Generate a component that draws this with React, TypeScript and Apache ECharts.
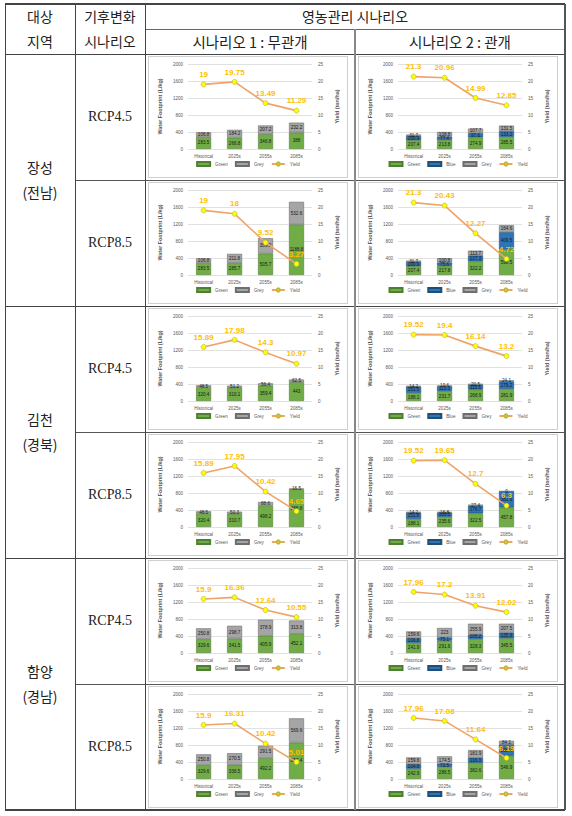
import React, { useEffect, useRef } from "react";
import * as echarts from "echarts";

// ---------- data ----------
const periods = ["Historical", "2025s", "2055s", "2085s"];
const regions = ["장성", "김천", "함양"];
const provinces = ["(전남)", "(경북)", "(경남)"];
const rcps = ["RCP4.5", "RCP8.5"];
const headerTop = "영농관리 시나리오";
const scenarioNames = ["시나리오 1 : 무관개", "시나리오 2 : 관개"];

// 장성
const jangseong45DryGreen = [283.5, 266.8, 346.8, 388];
const jangseong45DryGrey = [106.8, 184.2, 207.2, 232.2];
const jangseong45DryYield = [19, 19.75, 13.49, 11.29];
const jangseong45IrrGreen = [207.4, 213.8, 274.9, 285.5];
const jangseong45IrrBlue = [100.9, 77.4, 97.6, 133.2];
const jangseong45IrrGrey = [31.7, 108.8, 107.7, 131.5];
const jangseong45IrrYield = [21.3, 20.96, 14.99, 12.85];
const jangseong85DryGreen = [283.5, 285.7, 505.7, 1188.8];
const jangseong85DryGrey = [106.8, 211.8, 359.2, 532.6];
const jangseong85DryYield = [19, 18, 9.52, 3.27];
const jangseong85IrrGreen = [207.4, 217.8, 322.2, 598.5];
const jangseong85IrrBlue = [100.9, 75.6, 137.3, 409.5];
const jangseong85IrrGrey = [31.7, 100.8, 113.7, 164.6];
const jangseong85IrrYield = [21.3, 20.43, 12.27, 4.72];

// 김천
const gimcheon45DryGreen = [320.4, 310.1, 359.4, 443];
const gimcheon45DryGrey = [48.5, 51.2, 56.4, 62.5];
const gimcheon45DryYield = [15.89, 17.98, 14.3, 10.97];
const gimcheon45IrrGreen = [188.1, 231.7, 268.9, 281.9];
const gimcheon45IrrBlue = [151.5, 113.3, 115.6, 179.2];
const gimcheon45IrrGrey = [14.2, 19.6, 20.5, 24.1];
const gimcheon45IrrYield = [19.52, 19.4, 16.14, 13.2];
const gimcheon85DryGreen = [320.4, 310.7, 498.2, 888.8];
const gimcheon85DryGrey = [48.5, 50.3, 88.6, 16.5];
const gimcheon85DryYield = [15.89, 17.95, 10.42, 4.65];
const gimcheon85IrrGreen = [188.1, 235.6, 322.5, 457.8];
const gimcheon85IrrBlue = [151.8, 103.5, 176.7, 381.6];
const gimcheon85IrrGrey = [14.2, 16.8, 27.4, 0];
const gimcheon85IrrYield = [19.52, 19.65, 12.7, 6.3];

// 함양
const hamyang45DryGreen = [329.6, 341.5, 405.9, 452.1];
const hamyang45DryGrey = [250.8, 298.7, 378.9, 313.8];
const hamyang45DryYield = [15.9, 16.36, 12.64, 10.55];
const hamyang45IrrGreen = [241.9, 291.6, 328.3, 345.5];
const hamyang45IrrBlue = [106.8, 75.1, 105.2, 135.9];
const hamyang45IrrGrey = [159.6, 223, 255.9, 207.5];
const hamyang45IrrYield = [17.96, 17.2, 13.91, 12.02];
const hamyang85DryGreen = [329.6, 336.5, 492.2, 857.4];
const hamyang85DryGrey = [250.8, 270.5, 291.5, 569.6];
const hamyang85DryYield = [15.9, 16.31, 10.42, 5.01];
const hamyang85IrrGreen = [242.9, 286.5, 382.6, 546.9];
const hamyang85IrrBlue = [104.8, 72.5, 116.3, 268.4];
const hamyang85IrrGrey = [159.6, 174.5, 181.9, 84.1];
const hamyang85IrrYield = [17.96, 17.08, 11.64, 6.19];

type Cell = { green: number[]; blue?: number[]; grey: number[]; yld: number[] };

const rowsData: Cell[][] = [
  [
    { green: jangseong45DryGreen, grey: jangseong45DryGrey, yld: jangseong45DryYield },
    { green: jangseong45IrrGreen, blue: jangseong45IrrBlue, grey: jangseong45IrrGrey, yld: jangseong45IrrYield },
  ],
  [
    { green: jangseong85DryGreen, grey: jangseong85DryGrey, yld: jangseong85DryYield },
    { green: jangseong85IrrGreen, blue: jangseong85IrrBlue, grey: jangseong85IrrGrey, yld: jangseong85IrrYield },
  ],
  [
    { green: gimcheon45DryGreen, grey: gimcheon45DryGrey, yld: gimcheon45DryYield },
    { green: gimcheon45IrrGreen, blue: gimcheon45IrrBlue, grey: gimcheon45IrrGrey, yld: gimcheon45IrrYield },
  ],
  [
    { green: gimcheon85DryGreen, grey: gimcheon85DryGrey, yld: gimcheon85DryYield },
    { green: gimcheon85IrrGreen, blue: gimcheon85IrrBlue, grey: gimcheon85IrrGrey, yld: gimcheon85IrrYield },
  ],
  [
    { green: hamyang45DryGreen, grey: hamyang45DryGrey, yld: hamyang45DryYield },
    { green: hamyang45IrrGreen, blue: hamyang45IrrBlue, grey: hamyang45IrrGrey, yld: hamyang45IrrYield },
  ],
  [
    { green: hamyang85DryGreen, grey: hamyang85DryGrey, yld: hamyang85DryYield },
    { green: hamyang85IrrGreen, blue: hamyang85IrrBlue, grey: hamyang85IrrGrey, yld: hamyang85IrrYield },
  ],
];

// ---------- layout ----------
const FONT = "'Liberation Sans', Arial, sans-serif";
const KFONT = "'Noto Sans CJK KR', sans-serif";
const colX = [5, 75, 145, 355, 565];
const rowY = [54, 180, 306, 432, 558, 684, 810];
const boxW = 200;
const boxH = 122;
const boxLeft = [148, 358];

function MiniChart({ cell, left, top }: { cell: Cell; left: number; top: number }) {
  const ref = useRef<HTMLDivElement>(null);
  useEffect(() => {
    if (!ref.current) return;
    const chart = echarts.init(ref.current, undefined, { renderer: "svg" });
    const small = { fontSize: 4.6, color: "#595959", fontFamily: FONT };
    const barLabel = { show: true, position: "inside", fontSize: 4.6, color: "#1a1a1a", fontFamily: FONT };
    const series: any[] = [
      {
        type: "bar",
        name: "Green",
        stack: "wf",
        barWidth: 15,
        data: cell.green,
        itemStyle: { color: "#70AD47", borderColor: "#4F7F30", borderWidth: 0.6 },
        label: barLabel,
      },
    ];
    if (cell.blue) {
      series.push({
        type: "bar",
        name: "Blue",
        stack: "wf",
        barWidth: 15,
        data: cell.blue,
        itemStyle: { color: "#2E75B6", borderColor: "#1F4E79", borderWidth: 0.6 },
        label: barLabel,
      });
    }
    series.push({
      type: "bar",
      name: "Grey",
      stack: "wf",
      barWidth: 15,
      data: cell.grey,
      itemStyle: { color: "#A5A5A5", borderColor: "#6E6E6E", borderWidth: 0.6 },
      label: barLabel,
    });
    series.push({
      type: "line",
      name: "Yield",
      yAxisIndex: 1,
      data: cell.yld,
      symbol: "circle",
      symbolSize: 5,
      z: 10,
      lineStyle: { color: "#F0A367", width: 1.6 },
      itemStyle: { color: "#FFFF00", borderColor: "#BFB83A", borderWidth: 0.7 },
      label: {
        show: true,
        position: "top",
        distance: 3,
        fontSize: 8,
        fontWeight: "bold",
        color: "#FFC000",
        fontFamily: FONT,
      },
    });
    const legendData: any[] = [{ name: "Green", icon: "rect" }];
    if (cell.blue) legendData.push({ name: "Blue", icon: "rect" });
    legendData.push({ name: "Grey", icon: "rect" });
    legendData.push({ name: "Yield" });

    chart.setOption({
      animation: false,
      textStyle: { fontFamily: FONT },
      grid: { left: 34, right: 29, top: 7, bottom: 28 },
      legend: {
        data: legendData,
        bottom: 5,
        itemWidth: 13,
        itemHeight: 4,
        itemGap: 7,
        textStyle: small,
      },
      xAxis: {
        type: "category",
        data: periods,
        axisLine: { show: false },
        axisTick: { show: false },
        axisLabel: { ...small, margin: 5 },
      },
      yAxis: [
        {
          type: "value",
          min: 0,
          max: 2000,
          interval: 400,
          name: "Water Footprint (L/kg)",
          nameLocation: "middle",
          nameGap: 20,
          nameTextStyle: { fontSize: 5.4, fontWeight: "bold", color: "#595959", fontFamily: FONT },
          axisLabel: { ...small, margin: 5, formatter: (v: number) => String(v) },
          axisLine: { show: false },
          axisTick: { show: false },
          splitLine: { lineStyle: { color: "#D9D9D9", width: 0.8 } },
        },
        {
          type: "value",
          min: 0,
          max: 25,
          interval: 5,
          position: "right",
          name: "Yield (ton/ha)",
          nameLocation: "middle",
          nameGap: 18,
          nameTextStyle: { fontSize: 5.4, fontWeight: "bold", color: "#595959", fontFamily: FONT },
          axisLabel: { ...small, margin: 6, formatter: (v: number) => String(v) },
          axisLine: { show: false },
          axisTick: { show: false },
          splitLine: { show: false },
        },
      ],
      series,
    });
    return () => chart.dispose();
  }, [cell]);
  return (
    <div
      style={{
        position: "absolute",
        left,
        top,
        width: boxW,
        height: boxH,
        border: "1px solid #CFCFCF",
        boxSizing: "border-box",
        background: "#fff",
      }}
    >
      <div ref={ref} style={{ width: boxW - 2, height: boxH - 2 }} />
    </div>
  );
}

function HLine({ x1, x2, y, w = 1, c = "#555" }: { x1: number; x2: number; y: number; w?: number; c?: string }) {
  return <div style={{ position: "absolute", left: x1, top: y - w / 2, width: x2 - x1, height: w, background: c }} />;
}
function VLine({ y1, y2, x, w = 1, c = "#555" }: { y1: number; y2: number; x: number; w?: number; c?: string }) {
  return <div style={{ position: "absolute", left: x - w / 2, top: y1, width: w, height: y2 - y1, background: c }} />;
}
function Txt({ x, y, text, size = 14, font = KFONT }: { x: number; y: number; text: string; size?: number; font?: string }) {
  return (
    <div
      style={{
        position: "absolute",
        left: x - 100,
        top: y - size * 0.7,
        width: 200,
        textAlign: "center",
        fontSize: size,
        lineHeight: `${size * 1.4}px`,
        fontFamily: font,
        color: "#222",
        whiteSpace: "nowrap",
      }}
    >
      {text}
    </div>
  );
}

export default function App() {
  const top = 4;
  const bottom = rowY[6];
  return (
    <div style={{ position: "absolute", left: 0, top: 0, width: 572, height: 816, background: "#fff", overflow: "hidden" }}>
      {/* header texts */}
      <Txt x={40} y={17} text="대상" />
      <Txt x={40} y={42} text="지역" />
      <Txt x={110} y={17} text="기후변화" />
      <Txt x={110} y={42} text="시나리오" />
      <Txt x={(colX[2] + colX[4]) / 2} y={17} text={headerTop} />
      <Txt x={(colX[2] + colX[3]) / 2} y={42} text={scenarioNames[0]} size={14.5} />
      <Txt x={(colX[3] + colX[4]) / 2} y={42} text={scenarioNames[1]} size={14.5} />

      {/* region labels */}
      {regions.map((r, i) => {
        const cy = (rowY[i * 2] + rowY[i * 2 + 2]) / 2;
        return (
          <React.Fragment key={r}>
            <Txt x={40} y={cy - 12} text={r} />
            <Txt x={40} y={cy + 13} text={provinces[i]} />
          </React.Fragment>
        );
      })}
      {/* RCP labels */}
      {rowsData.map((_, i) => (
        <Txt
          key={"rcp" + i}
          x={110}
          y={(rowY[i] + rowY[i + 1]) / 2}
          text={rcps[i % 2]}
          size={14}
          font="'Liberation Serif', 'Times New Roman', serif"
        />
      ))}

      {/* charts */}
      {rowsData.map((row, i) =>
        row.map((cell, j) => (
          <MiniChart key={`c${i}-${j}`} cell={cell} left={boxLeft[j]} top={rowY[i] + 2} />
        ))
      )}

      {/* table lines */}
      <HLine x1={colX[0]} x2={colX[4]} y={top} w={1.5} c="#444" />
      <HLine x1={colX[2]} x2={colX[4]} y={29} c="#666" />
      <HLine x1={colX[0]} x2={colX[4]} y={rowY[0]} c="#444" />
      <HLine x1={colX[1]} x2={colX[4]} y={rowY[1]} c="#555" />
      <HLine x1={colX[0]} x2={colX[4]} y={rowY[2]} c="#444" />
      <HLine x1={colX[1]} x2={colX[4]} y={rowY[3]} c="#555" />
      <HLine x1={colX[0]} x2={colX[4]} y={rowY[4]} c="#444" />
      <HLine x1={colX[1]} x2={colX[4]} y={rowY[5]} c="#555" />
      <HLine x1={colX[0]} x2={colX[4]} y={bottom} w={1.5} c="#444" />
      <VLine x={colX[0]} y1={top} y2={bottom} c="#444" />
      <VLine x={colX[1]} y1={top} y2={bottom} c="#444" />
      <VLine x={colX[2]} y1={top} y2={bottom} c="#444" />
      <VLine x={colX[3]} y1={29} y2={bottom} w={1.5} c="#888" />
      <VLine x={colX[4]} y1={top} y2={bottom} w={2} c="#555" />
    </div>
  );
}
